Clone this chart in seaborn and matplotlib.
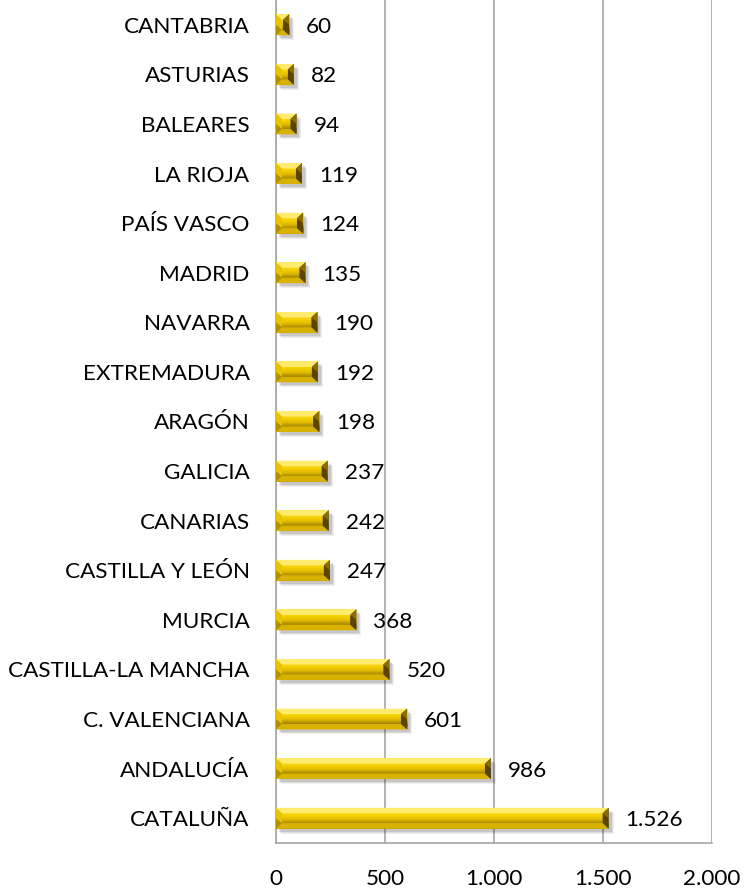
import numpy as np
import matplotlib
matplotlib.use("Agg")
import matplotlib.pyplot as plt
from matplotlib.patches import Polygon, Rectangle
from matplotlib.colors import LinearSegmentedColormap
import seaborn as sns

regions = ["CANTABRIA", "ASTURIAS", "BALEARES", "LA RIOJA", "PAÍS VASCO", "MADRID",
           "NAVARRA", "EXTREMADURA", "ARAGÓN", "GALICIA", "CANARIAS", "CASTILLA Y LEÓN",
           "MURCIA", "CASTILLA-LA MANCHA", "C. VALENCIANA", "ANDALUCÍA", "CATALUÑA"]
values = [60, 82, 94, 119, 124, 135, 190, 192, 198, 237, 242, 247, 368, 520, 601, 986, 1526]
xticks = [0, 500, 1000, 1500, 2000]
xticklabels = ["0", "500", "1.000", "1.500", "2.000"]

sns.set_theme(style="white")
plt.rcParams['font.family'] = ['Lato', 'DejaVu Sans']

fig = plt.figure(figsize=(7.49, 8.93), dpi=100)
ax = fig.add_axes([276/749, 50/893, (712-276)/749, 843/893])

sns.barplot(x=values, y=regions, orient="h", color="#E8C400", width=0.42,
            ax=ax, edgecolor="none", zorder=3)

ax.set_xlim(0, 2000)
ax.set_ylim(len(regions) - 0.5, -0.5)

FS = 16.2
grey = "#A6A6A6"
ax.set_xticks(xticks)
ax.set_xticklabels(xticklabels, fontsize=FS, color="black")
ax.set_yticks(range(len(regions)))
ax.set_yticklabels(regions, fontsize=FS, color="black")
ax.set_yticks(np.arange(-0.5, len(regions), 1.0), minor=True)
ax.tick_params(axis="y", which="major", length=0, pad=19)
ax.tick_params(axis="y", which="minor", length=6, color=grey, width=1.2, direction="out")
ax.tick_params(axis="x", which="major", length=6, color=grey, width=1.2, direction="out", pad=13)
ax.grid(axis="x", color=grey, linewidth=1.2, zorder=0)
ax.grid(axis="y", visible=False)
for s in ["top", "right"]:
    ax.spines[s].set_visible(False)
for s in ["left", "bottom"]:
    ax.spines[s].set_color(grey)
    ax.spines[s].set_linewidth(1.2)
ax.set_xlabel("")
ax.set_ylabel("")

# gradient / bevel styling of each bar
cmap = LinearSegmentedColormap.from_list("gold", [
    (0.00, "#FFE24A"), (0.35, "#F6D000"), (0.55, "#E0BA00"),
    (0.72, "#A88A00"), (0.86, "#8A6E00"), (1.00, "#C9A400")])
grad = np.linspace(0, 1, 64).reshape(-1, 1)
fig.canvas.draw()
inv = ax.transData.inverted()
px_x = inv.transform((1, 0))[0] - inv.transform((0, 0))[0]
px_y = len(regions) / 843.0

for p, v in zip(ax.patches, values):
    x0, y0, w, h = p.get_x(), p.get_y(), p.get_width(), p.get_height()
    x1, y1 = x0 + w, y0 + h
    # soft shadow
    for k, a in [(5, 0.06), (4, 0.08), (3, 0.10)]:
        ax.add_patch(Rectangle((x0 + k * px_x, y0 + k * px_y), w, h, color="black",
                               alpha=a, zorder=2, lw=0))
    im = ax.imshow(grad, cmap=cmap, aspect="auto", extent=[x0, x1, y1, y0],
                   origin="upper", zorder=4, interpolation="bilinear")
    im.set_clip_path(p)
    bx = min(6 * px_x, w / 2)
    by = min(5.5 * px_y, h / 2)
    ym = y0 + h / 2
    # top facet
    ax.add_patch(Polygon([(x0, y0), (x1, y0), (x1 - bx, y0 + by), (x0 + bx, y0 + by)],
                         closed=True, color="#FFEB6E", zorder=5, lw=0))
    # bottom facet
    ax.add_patch(Polygon([(x0, y1), (x1, y1), (x1 - bx, y1 - by), (x0 + bx, y1 - by)],
                         closed=True, color="#D9B200", zorder=5, lw=0))
    # left facet
    ax.add_patch(Polygon([(x0, y0), (x0 + bx, y0 + by), (x0 + bx, y1 - by), (x0, y1)],
                         closed=True, color="#E9C300", zorder=5, lw=0))
    ax.add_patch(Polygon([(x0, ym), (x0 + bx, y1 - by), (x0, y1)],
                         closed=True, color="#B08F00", zorder=5, lw=0))
    # right facet
    ax.add_patch(Polygon([(x1, y0), (x1 - bx, y0 + by), (x1 - bx, y1 - by), (x1, y1)],
                         closed=True, color="#5A4400", zorder=5, lw=0))
    ax.add_patch(Polygon([(x1, y0), (x1 - bx, y0 + by), (x1, ym)],
                         closed=True, color="#8C6D00", zorder=5, lw=0))
    ax.annotate(f"{v:,}".replace(",", "."), xy=(x1, ym), xytext=(17, 0),
                textcoords="offset pixels", va="center_baseline", ha="left",
                fontsize=FS, color="black", zorder=6)

ax.set_xlim(0, 2000)
ax.set_ylim(len(regions) - 0.5, -0.5)
fig.savefig("out.png", dpi=100)
